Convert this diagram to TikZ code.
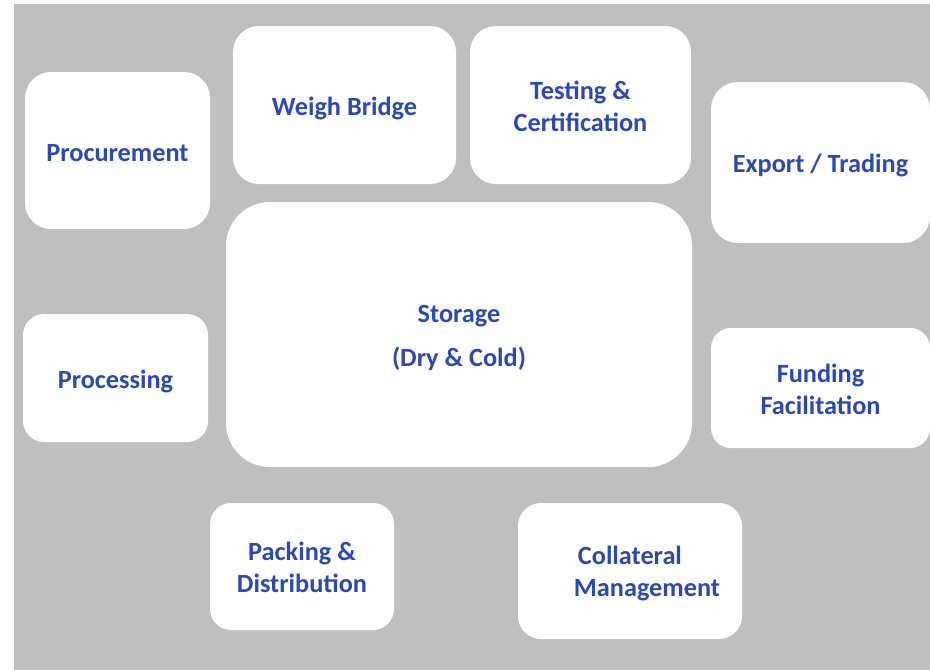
\documentclass[tikz,border=0pt]{standalone}
\usepackage{fontspec}
\setmainfont{Carlito}
\definecolor{bg}{RGB}{191,191,191}
\definecolor{txtblue}{RGB}{42,72,184}
\begin{document}
\begin{tikzpicture}[x=1pt,y=-1pt,
  box/.style={fill=white, draw=none, inner sep=0pt},
  lbl/.style={inner sep=0pt, align=center, text=txtblue, font=\fontsize{26.3}{32}\selectfont\bfseries}]
\useasboundingbox (0,0) rectangle (930,670);
\fill[bg] (14,4) rectangle (930,670);
\node[box, minimum width=185pt, minimum height=157pt, rounded corners=26pt] (proc) at (117.5,150.5) {};
\node[box, minimum width=223pt, minimum height=158pt, rounded corners=26pt] (weigh) at (344.5,105) {};
\node[box, minimum width=221pt, minimum height=158pt, rounded corners=26pt] (test) at (580.5,105) {};
\node[box, minimum width=219pt, minimum height=161pt, rounded corners=27pt] (export) at (820.5,162.5) {};
\node[box, minimum width=466pt, minimum height=265pt, rounded corners=44pt] (store) at (459,334.5) {};
\node[box, minimum width=185pt, minimum height=128pt, rounded corners=21pt] (process) at (115.5,378) {};
\node[box, minimum width=219pt, minimum height=120pt, rounded corners=20pt] (fund) at (820.5,388) {};
\node[box, minimum width=184pt, minimum height=127pt, rounded corners=21pt] (pack) at (302,566.5) {};
\node[box, minimum width=224pt, minimum height=136pt, rounded corners=23pt] (coll) at (630,571) {};
\node[lbl] (proctxt) at ([yshift=-3pt]proc.center) {Procurement};
\node[lbl] (weightxt) at ([yshift=-3pt]weigh.center) {Weigh Bridge};
\node[lbl] (testtxt) at ([yshift=-1pt]test.center) {Testing \&\\Certification};
\node[lbl] (exporttxt) at ([yshift=-3pt]export.center) {Export / Trading};
\node[lbl] (storetxt) at ([yshift=-3pt]store.center) {Storage\\[12pt](Dry \& Cold)};
\node[lbl] (processtxt) at ([yshift=-3pt]process.center) {Processing};
\node[lbl] (fundtxt) at ([yshift=-1pt]fund.center) {Funding\\Facilitation};
\node[lbl] (packtxt) at ([yshift=-1pt]pack.center) {Packing \&\\Distribution};
\node[lbl, align=left] (colltxt) at ([xshift=17pt,yshift=-2pt]coll.center) {\hspace*{4pt}Collateral\\Management};
\end{tikzpicture}
\end{document}
